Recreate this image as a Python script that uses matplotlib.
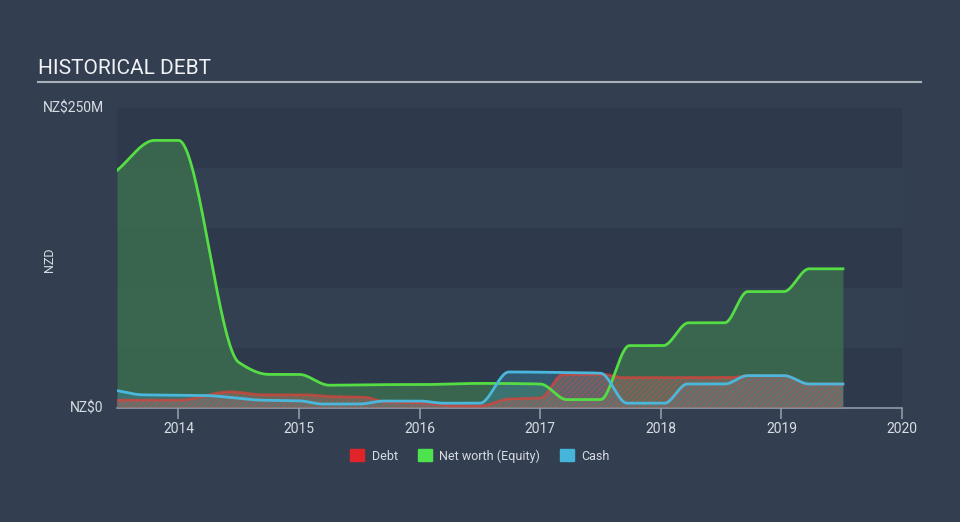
import numpy as np
import matplotlib
matplotlib.use("Agg")
import matplotlib.pyplot as plt
from matplotlib.patches import Patch

plt.rcParams['font.family'] = ['Roboto', 'DejaVu Sans']

# values in NZ$ millions, at report dates (decimal years)
nw_t = [2013.49, 2013.8, 2014.0, 2014.5, 2014.75, 2015.0, 2015.25, 2015.75, 2016.0, 2016.5,
        2017.0, 2017.22, 2017.5, 2017.74, 2018.02, 2018.23, 2018.53, 2018.72, 2019.02, 2019.23, 2019.51]
nw_v = [198, 223, 223, 38, 28, 28, 19, 19.5, 19.5, 20.5,
        20, 7, 7, 52, 52, 71, 71, 97, 97, 116, 116]

cash_t = [2013.49, 2013.7, 2014.2, 2014.7, 2015.0, 2015.2, 2015.5, 2015.7, 2016.0, 2016.2, 2016.5,
          2016.74, 2017.25, 2017.5, 2017.72, 2018.03, 2018.22, 2018.53, 2018.72, 2019.02, 2019.23, 2019.51]
cash_v = [14.5, 11, 10.5, 6.5, 6, 3.3, 3.3, 5.8, 5.8, 4, 4,
          30, 29.5, 29, 4, 4, 20, 20, 27, 27, 20, 20]

debt_t = [2013.49, 2014.0, 2014.43, 2014.7, 2015.05, 2015.27, 2015.54, 2015.72, 2016.0, 2016.25, 2016.5,
          2016.74, 2017.0, 2017.19, 2017.52, 2017.69, 2018.6, 2018.72, 2019.02, 2019.23, 2019.51]
debt_v = [6.5, 6.5, 13.5, 11, 11, 9.5, 9, 5, 4.4, 2, 1.7,
          7.5, 8.3, 28, 28, 25.3, 25.5, 27, 27, 20, 20]

years = [2014, 2015, 2016, 2017, 2018, 2019, 2020]


def monotone(x, y, xs):
    # monotone cubic curve through the points (Fritsch-Carlson)
    x = np.asarray(x, float)
    y = np.asarray(y, float)
    h = np.diff(x)
    d = np.diff(y) / h
    m = np.zeros_like(y)
    m[0], m[-1] = d[0], d[-1]
    for k in range(1, len(x) - 1):
        if d[k - 1] * d[k] > 0:
            w1 = 2 * h[k] + h[k - 1]
            w2 = h[k] + 2 * h[k - 1]
            m[k] = (w1 + w2) / (w1 / d[k - 1] + w2 / d[k])
    idx = np.clip(np.searchsorted(x, xs) - 1, 0, len(x) - 2)
    t = (xs - x[idx]) / h[idx]
    h00 = 2 * t**3 - 3 * t**2 + 1
    h10 = t**3 - 2 * t**2 + t
    h01 = -2 * t**3 + 3 * t**2
    h11 = t**3 - t**2
    return h00 * y[idx] + h10 * h[idx] * m[idx] + h01 * y[idx + 1] + h11 * h[idx] * m[idx + 1]


bg = '#333f50'
fig = plt.figure(figsize=(9.6, 5.22), dpi=100, facecolor=bg)
ax = fig.add_axes([117 / 960, 114 / 522, 785 / 960, 300 / 522])
ax.set_facecolor(bg)

xs = np.linspace(2013.49, 2019.51, 1500)
nw = monotone(nw_t, nw_v, xs)
cash = monotone(cash_t, cash_v, xs)
debt = monotone(debt_t, debt_v, xs)

# alternating bands
for i in range(5):
    ax.axhspan(i * 50, (i + 1) * 50, xmin=0, xmax=1,
               color='#2e3a4b' if i % 2 == 0 else '#334051', zorder=0, lw=0)

ax.fill_between(xs, 0, nw, color='#3b6a4f', alpha=0.9, lw=0, zorder=1)
ax.fill_between(xs, 0, cash, color='#3d8fb0', alpha=0.35, lw=0, zorder=2)
ax.fill_between(xs, 0, debt, facecolor='#7a7470', alpha=0.55, lw=0, zorder=3)
ax.fill_between(xs, 0, debt, facecolor='none', edgecolor='#d9463a', hatch='//////',
                alpha=0.45, lw=0, zorder=3)
plt.rcParams['hatch.linewidth'] = 1.0

ax.plot(xs, debt, color='#e0413a', lw=2, zorder=4, alpha=0.7)
ax.plot(xs, nw, color='#55dd44', lw=2, zorder=5)
ax.plot(xs, cash, color='#4ab8dc', lw=2, zorder=6)

ax.set_xlim(2013.49, 2020.0)
ax.set_ylim(0, 250)
for s in ['top', 'right', 'left']:
    ax.spines[s].set_visible(False)
ax.spines['bottom'].set_color('#8f9aa8')
ax.spines['bottom'].set_linewidth(1.2)
ax.set_xticks(years)
ax.set_xticklabels([str(y) for y in years])
ax.tick_params(axis='x', colors='#8f9aa8', length=8, width=1.2, labelsize=10, labelcolor='#d8dde3', pad=2)
ax.set_yticks([])

ax.text(-0.017, 250, 'NZ$250M', transform=ax.get_yaxis_transform(), ha='right', va='center',
        color='#d8dde3', fontsize=10)
ax.text(-0.017, 0, 'NZ$0', transform=ax.get_yaxis_transform(), ha='right', va='center',
        color='#d8dde3', fontsize=10)
fig.text(50 / 960, 1 - 260 / 522, 'NZD', rotation=90, ha='center', va='center',
         color='#d8dde3', fontsize=9)

fig.text(38 / 960, 1 - 69 / 522, 'HISTORICAL DEBT', ha='left', va='center',
         color='#f0f2f4', fontsize=15)
fig.add_artist(plt.Line2D([38 / 960, 921 / 960], [1 - 82 / 522, 1 - 82 / 522],
                          color='#a9b0b8', lw=1.5))

handles = [Patch(color='#e0242a', label='Debt'),
           Patch(color='#4de34d', label='Net worth (Equity)'),
           Patch(color='#45b5dc', label='Cash')]
fig.legend(handles=handles, loc='center', bbox_to_anchor=(480 / 960, 1 - 456 / 522), ncol=3,
           frameon=False, fontsize=9, labelcolor='#d8dde3', handlelength=1.1, handleheight=1.1,
           columnspacing=1.6, handletextpad=0.6)

fig.savefig('out.png', dpi=100, facecolor=bg)
